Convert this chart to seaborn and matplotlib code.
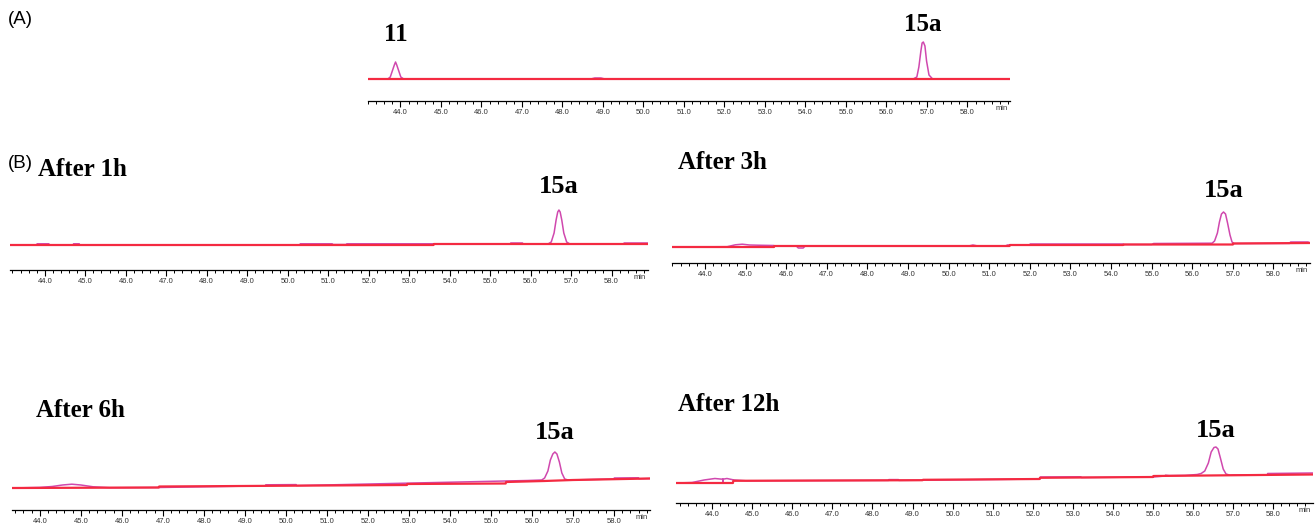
import matplotlib
matplotlib.use("Agg")
import matplotlib.pyplot as plt
import seaborn as sns
import pandas as pd
from matplotlib import transforms
from matplotlib.ticker import FixedLocator, MultipleLocator

# ---------------- data ----------------
TICK_MINUTES = [44, 45, 46, 47, 48, 49, 50, 51, 52, 53, 54, 55, 56, 57, 58]
TICK_LABELS = [f"{v:.1f}" for v in TICK_MINUTES]

# (A) standard mixture: 11 and 15a
A_TIME = [43.20, 43.69, 43.75, 43.80, 43.85, 43.88, 43.91, 43.96, 44.01, 44.08,
          48.70, 48.80, 48.95, 49.05,
          56.66, 56.75, 56.80, 56.85, 56.88, 56.91, 56.95, 56.99, 57.05, 57.14, 59.05]
A_SIGNAL = [0, 0, 2, 8, 14, 17, 14, 8, 2, 0,
            0, 1, 1, 0,
            0, 2, 12, 28, 36, 37, 33, 18, 4, 0, 0]
A_BASE_T = [43.20, 59.05]
A_BASE = [0, 0]

# (B) After 1h
B1_TIME = [43.14, 43.80, 43.81, 44.10, 44.11, 44.70, 44.71, 44.85, 44.86, 50.30, 50.31,
           51.10, 51.11, 51.45, 51.46, 53.60, 53.61, 55.50, 55.51, 55.80, 55.81,
           56.43, 56.51, 56.58, 56.63, 56.67, 56.70, 56.73, 56.77, 56.82, 56.89, 56.97,
           58.30, 58.31, 58.90]
B1_SIGNAL = [0, 0, 1.2, 1.2, 0, 0, 1.2, 1.2, 0, 0, 1.2,
             1.2, 0.5, 0.5, 1.2, 1.2, 1, 1, 2, 2, 1,
             1, 3, 12, 25, 33, 35, 33, 25, 12, 3, 1,
             1, 2, 2]
B1_BASE_T = [43.14, 53.60, 53.61, 58.90]
B1_BASE = [0, 0, 1, 1]

# (B) After 3h
B2_TIME = [43.19, 44.55, 44.75, 44.92, 45.10, 45.30, 45.70, 45.71, 46.25, 46.30, 46.42, 46.47,
           50.50, 50.60, 50.72, 51.40, 51.45, 51.55, 52.00, 52.01, 54.30, 54.31, 55.00, 55.05,
           56.49, 56.55, 56.62, 56.67, 56.72, 56.77, 56.82, 56.87, 56.93, 56.98, 57.03,
           58.40, 58.42, 58.85, 58.90]
B2_SIGNAL = [0, 0.3, 2.2, 2.8, 2, 1.8, 1.5, 1, 1, -1, -1, 1,
             1, 2, 1, 1, 2, 2, 2, 3, 3, 2.5, 2.5, 3.5,
             3.8, 6, 14, 25, 33, 35, 33, 24, 12, 5, 3.5,
             3.6, 5, 5, 4.2]
B2_BASE_T = [43.19, 45.70, 45.71, 51.50, 51.51, 54.30, 54.31, 57.00, 57.01, 58.90]
B2_BASE = [0, 0, 1, 1, 2, 2, 2.5, 2.5, 3.5, 4]

# (B) After 6h
B3_TIME = [43.32, 44.00, 44.30, 44.55, 44.78, 45.00, 45.30, 45.70, 46.90,
           49.50, 49.51, 50.25, 50.26, 55.90, 56.24, 56.31, 56.39, 56.45, 56.51, 56.56,
           56.61, 56.67, 56.73, 56.80, 56.88, 58.00, 58.01, 58.60, 58.61, 58.88]
B3_SIGNAL = [0, 0.6, 1.5, 3, 3.8, 3, 1.2, 0.3, 0.5,
             2.2, 3.2, 3.4, 2.4, 7.5, 8, 10, 17, 28, 34, 36,
             34, 26, 15, 9, 8, 9, 10, 10.2, 9.3, 9.5]
B3_BASE_T = [43.32, 46.90, 46.91, 52.95, 52.96, 55.36, 55.37, 56.30, 57.00, 58.88]
B3_BASE = [0, 0.5, 1.5, 3, 4, 4.5, 6, 7, 8, 9.5]

# (B) After 12h
B4_TIME = [43.10, 43.50, 43.80, 44.07, 44.20, 44.27, 44.27, 44.27, 44.37, 44.55, 44.85,
           48.40, 48.41, 48.65, 48.66, 49.30, 52.18, 52.19, 53.20, 53.21, 55.00,
           55.30, 55.31, 55.40, 55.80, 56.10, 56.20, 56.29, 56.38, 56.45, 56.52, 56.57,
           56.62, 56.68, 56.75, 56.82, 56.92, 57.00, 57.85, 57.86, 58.99]
B4_SIGNAL = [0, 0.5, 3, 4.5, 4, 3.8, 0, 3.8, 4.5, 3, 2.2,
             2.6, 3.4, 3.4, 2.6, 2.8, 4, 6, 6.2, 5.5, 6,
             7, 7.8, 7.4, 7.6, 8.5, 9.5, 12, 20, 31, 35.5, 36,
             34, 25, 14, 9, 7.8, 8, 8.2, 9.5, 10]
B4_BASE_T = [43.10, 44.52, 44.53, 49.25, 49.26, 52.17, 52.18, 55.00, 55.01, 58.99]
B4_BASE = [0, 0, 2.2, 2.8, 3.2, 4, 5.2, 6, 7, 8.5]

PANEL_TITLES = ["After 1h", "After 3h", "After 6h", "After 12h"]
PEAK_NAMES = ["11", "15a"]
PEAK_TIMES_A = [43.88, 56.90]
PEAK_TIMES_B = [56.70, 56.77, 56.56, 56.57]

# ---------------- style / layout ----------------
W, H = 1315, 523
TRACE = "#d048ae"
BASE = "#f42a41"
SERIF = ["Liberation Serif", "DejaVu Serif"]

sns.set_style("white")
plt.rcParams["font.family"] = ["Liberation Sans", "DejaVu Sans"]
plt.rcParams["text.color"] = "black"

fig = plt.figure(figsize=(W / 100, H / 100), dpi=100)


def make_axes(x0, x1, ytop, ybot):
    return fig.add_axes([x0 / W, 1 - ybot / H, (x1 - x0) / W, (ybot - ytop) / H])


def draw_panel(ax, t, s, bt, b, xlim, ylim):
    df = pd.DataFrame({"time": t, "signal": s})
    dfb = pd.DataFrame({"time": bt, "signal": b})
    sns.lineplot(data=df, x="time", y="signal", ax=ax, color=TRACE, lw=1.1,
                 estimator=None, sort=False)
    sns.lineplot(data=dfb, x="time", y="signal", ax=ax, color=BASE, lw=1.6,
                 estimator=None, sort=False)
    ax.set_xlim(*xlim)
    ax.set_ylim(*ylim)
    for sp in ["left", "top", "right"]:
        ax.spines[sp].set_visible(False)
    ax.spines["bottom"].set_color("black")
    ax.spines["bottom"].set_linewidth(0.9)
    ax.set_yticks([])
    ax.set_xlabel("")
    ax.set_ylabel("")
    ax.xaxis.set_major_locator(FixedLocator(TICK_MINUTES))
    ax.set_xticklabels(TICK_LABELS)
    ax.xaxis.set_minor_locator(MultipleLocator(0.2))
    ax.tick_params(axis="x", which="both", bottom=True, direction="out",
                   color="black", labelsize=5.5, labelcolor="#333333", pad=1.5)
    ax.tick_params(axis="x", which="major", length=4.5, width=0.8)
    ax.tick_params(axis="x", which="minor", length=2.5, width=0.7)
    ax.set_facecolor("none")
    # 'min' unit at the right end of the time axis
    off = transforms.offset_copy(ax.get_xaxis_transform(), fig=fig, x=0, y=-7.5, units="dots")
    ax.text(xlim[1] - 0.2, 0, "min", transform=off, ha="center", va="center",
            fontsize=5.5, color="#333333")


def peak_label(ax, t, ybase_px, text, size):
    tr = transforms.blended_transform_factory(ax.transData, fig.transFigure)
    ax.text(t, 1 - ybase_px / H, text, transform=tr, ha="center", va="baseline",
            fontsize=size, fontweight="bold", family=SERIF, clip_on=False, color="black")


def fig_text(x, y, s, **kw):
    fig.text(x / W, 1 - y / H, s, color="black", **kw)


# (A)
axA = make_axes(368, 1010, 30, 101)
draw_panel(axA, A_TIME, A_SIGNAL, A_BASE_T, A_BASE, (43.20, 59.05), (-22, 49))
peak_label(axA, PEAK_TIMES_A[0], 41, PEAK_NAMES[0], 18)
peak_label(axA, PEAK_TIMES_A[1], 31, PEAK_NAMES[1], 18)

# (B)
layouts = [
    (10, 648, 195, 270, (43.14, 58.90), (-25, 50), 193, (38, 176)),
    (672, 1310, 195, 263, (43.19, 58.90), (-16, 52), 197, (678, 169)),
    (12, 650, 440, 510, (43.32, 58.88), (-22, 48), 439, (36, 417)),
    (676, 1313, 438, 503, (43.10, 58.99), (-20, 45), 437, (678, 411)),
]
data_b = [
    (B1_TIME, B1_SIGNAL, B1_BASE_T, B1_BASE),
    (B2_TIME, B2_SIGNAL, B2_BASE_T, B2_BASE),
    (B3_TIME, B3_SIGNAL, B3_BASE_T, B3_BASE),
    (B4_TIME, B4_SIGNAL, B4_BASE_T, B4_BASE),
]
for i, (lay, dat) in enumerate(zip(layouts, data_b)):
    x0, x1, yt, yb, xl, yl, lab_y, (tx, ty) = lay
    ax = make_axes(x0, x1, yt, yb)
    draw_panel(ax, *dat, xl, yl)
    peak_label(ax, PEAK_TIMES_B[i], lab_y, PEAK_NAMES[1], 19)
    fig_text(tx, ty, PANEL_TITLES[i], fontsize=18, fontweight="bold", family=SERIF,
             ha="left", va="baseline")

fig_text(8, 20, "(A)", fontsize=13.5, ha="left", va="center")
fig_text(8, 163, "(B)", fontsize=13.5, ha="left", va="center")

fig.savefig("out.png", dpi=100, facecolor="white")
